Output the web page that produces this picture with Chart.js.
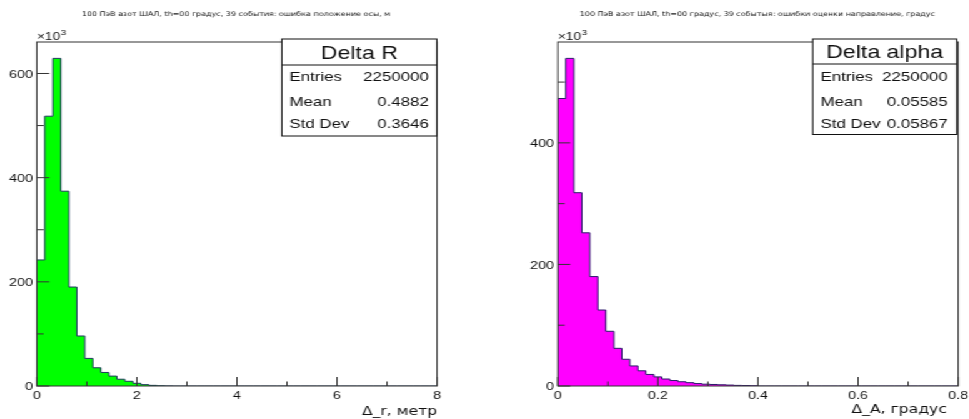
<!DOCTYPE html>
<html><head><meta charset="utf-8">
<script src="https://cdn.jsdelivr.net/npm/chart.js@4"></script>
<style>
html,body{margin:0;padding:0;background:#fff;overflow:hidden;width:969px;height:419px}
#wrap{position:absolute;left:0;top:0;width:776px;height:419px;transform:scaleX(1.25);transform-origin:0 0}
#c1{position:absolute;left:0;top:0}
#c2{position:absolute;left:388px;top:0}
</style></head><body>
<div id="wrap"><canvas id="c1" width="388" height="419"></canvas><canvas id="c2" width="388" height="419"></canvas></div>
<script>
// ---------- data ----------
const titleR = '100 ПэВ азот ШАЛ, th=00 градус, 39 события: ошибка положение осы, м';
const titleA = '100 ПэВ азот ШАЛ, th=00 градус, 39 событыя: ошибки оценки направление, градус';
const axisTitleR = 'Δ_r, метр';
const axisTitleA = 'Δ_A, градус';

// histogram Delta R : 50 bins on [0, 8], contents in units of 10^3
const binsR = {nbins: 50, xmin: 0, xmax: 8};
const valuesR = [242, 518, 629, 374, 190, 96, 53, 35, 26, 19, 13, 9, 5.2, 2.6, 1.2, 0.5, 0.2, 0, 0, 0,
                 0, 0, 0, 0, 0, 0, 0, 0, 0, 0, 0, 0, 0, 0, 0, 0, 0, 0, 0, 0,
                 0, 0, 0, 0, 0, 0, 0, 0, 0, 0];
const statsR = {name: 'Delta R', entries: '2250000', mean: '0.4882', std: '0.3646'};
const xMajorR = [0, 2, 4, 6, 8], xMinorR = [1, 3, 5, 7];
const xLabelsR = ['0', '2', '4', '6', '8'];
const yMajorR = [0, 200, 400, 600], yMinorR = [100, 300, 500];
const yLabelsR = ['0', '200', '400', '600'];

// histogram Delta alpha : 50 bins on [0, 0.8], contents in units of 10^3
const binsA = {nbins: 50, xmin: 0, xmax: 0.8};
const valuesA = [473, 539, 318, 252, 180, 125, 90, 62, 44, 33, 25, 19, 15, 11.5, 9, 7, 5.5, 4, 3, 2.5,
                 2, 1.5, 1, 0.7, 0.4, 0, 0, 0, 0, 0, 0, 0, 0, 0, 0, 0, 0, 0, 0, 0,
                 0, 0, 0, 0, 0, 0, 0, 0, 0, 0];
const statsA = {name: 'Delta alpha', entries: '2250000', mean: '0.05585', std: '0.05867'};
const xMajorA = [0, 0.2, 0.4, 0.6, 0.8], xMinorA = [0.1, 0.3, 0.5, 0.7];
const xLabelsA = ['0', '0.2', '0.4', '0.6', '0.8'];
const yMajorA = [0, 200, 400], yMinorA = [100, 300, 500];
const yLabelsA = ['0', '200', '400'];

// ---------- drawing ----------
const SANS = '"Liberation Sans", Arial, Helvetica, sans-serif';
const DEJA = '"DejaVu Sans", sans-serif';

function rootPlugin(cfg) {
  return {
    id: 'rootStyle',
    afterDatasetsDraw(chart) {
      const {ctx, chartArea: a, scales: {x, y}} = chart;
      ctx.save();
      const seg = (x1, y1, x2, y2) => { ctx.beginPath(); ctx.moveTo(x1, y1); ctx.lineTo(x2, y2); ctx.stroke(); };
      ctx.strokeStyle = '#333'; ctx.lineWidth = 1;
      ctx.strokeRect(a.left, a.top, a.right - a.left, a.bottom - a.top);
      cfg.xMajor.forEach(v => { const p = x.getPixelForValue(v); seg(p, a.bottom, p, a.bottom - 9); });
      cfg.xMinor.forEach(v => { const p = x.getPixelForValue(v); seg(p, a.bottom, p, a.bottom - 4.5); });
      cfg.yMajor.forEach(v => { const p = y.getPixelForValue(v); seg(a.left, p, a.left + 10, p); });
      cfg.yMinor.forEach(v => { const p = y.getPixelForValue(v); seg(a.left, p, a.left + 5.5, p); });
      ctx.fillStyle = '#111';
      ctx.font = '11.5px ' + SANS;
      ctx.textAlign = 'center'; ctx.textBaseline = 'middle';
      cfg.xMajor.forEach((v, i) => ctx.fillText(cfg.xLabels[i], x.getPixelForValue(v), a.bottom + 10));
      ctx.textAlign = 'right';
      cfg.yMajor.forEach((v, i) => ctx.fillText(cfg.yLabels[i], a.left - 3, y.getPixelForValue(v) + 1));
      ctx.textAlign = 'left'; ctx.textBaseline = 'alphabetic';
      ctx.font = '11px ' + SANS;
      ctx.fillText('×10', a.left, 40);
      const w = ctx.measureText('×10').width;
      ctx.font = '8px ' + SANS;
      ctx.fillText('3', a.left + w + 0.5, 35);
      ctx.font = '12.5px ' + DEJA; ctx.textAlign = 'right'; ctx.textBaseline = 'middle';
      ctx.fillText(cfg.axisTitle, cfg.axisTitleX, cfg.axisTitleY);
      ctx.font = '6.4px ' + DEJA; ctx.textAlign = 'center';
      ctx.fillText(cfg.title, cfg.titleX, 14.5);
      const s = cfg.box;
      ctx.fillStyle = '#fff';
      ctx.fillRect(s.l, s.t, s.r - s.l, s.b - s.t);
      ctx.strokeStyle = '#111';
      ctx.strokeRect(s.l, s.t, s.r - s.l, s.b - s.t);
      seg(s.l, s.sep, s.r, s.sep);
      ctx.fillStyle = '#111';
      ctx.font = '18.5px ' + SANS; ctx.textAlign = 'center';
      ctx.fillText(cfg.stats.name, (s.l + s.r) / 2, (s.t + s.sep) / 2 + 1.5);
      ctx.font = '13.5px ' + SANS;
      const rows = [['Entries', cfg.stats.entries], ['Mean', cfg.stats.mean], ['Std Dev', cfg.stats.std]];
      const ys = [77.5, 102, 124.5];
      rows.forEach((r, i) => {
        ctx.textAlign = 'left'; ctx.fillText(r[0], s.tx, ys[i]);
        ctx.textAlign = 'right'; ctx.fillText(r[1], s.vx, ys[i]);
      });
      ctx.restore();
    }
  };
}

function makeChart(id, bins, values, cfg) {
  const edges = [];
  for (let i = 0; i <= bins.nbins; i++) edges.push(bins.xmin + (bins.xmax - bins.xmin) * i / bins.nbins);
  // step outline: each point is the right edge of a bin with that bin's content
  const pts = [{x: bins.xmin, y: 0}];
  values.forEach((v, i) => pts.push({x: edges[i + 1], y: v}));
  pts.push({x: bins.xmax, y: 0});
  const ymax = 1.05 * Math.max(...values);
  return new Chart(document.getElementById(id), {
    type: 'line',
    data: {datasets: [{data: pts, stepped: 'after', fill: 'origin', backgroundColor: cfg.fill,
      borderColor: cfg.line, borderWidth: 1, pointRadius: 0}]},
    options: {
      responsive: false, animation: false, events: [],
      layout: {padding: cfg.pad},
      plugins: {legend: {display: false}, tooltip: {enabled: false}},
      scales: {
        x: {type: 'linear', min: bins.xmin, max: bins.xmax, display: false},
        y: {type: 'linear', min: 0, max: ymax, display: false}
      }
    },
    plugins: [rootPlugin(cfg)]
  });
}

makeChart('c1', binsR, valuesR, {
  fill: '#00ff00', line: '#1d3a5c',
  pad: {left: 29.4, right: 38.4, top: 42, bottom: 33},
  xMajor: xMajorR, xMinor: xMinorR, xLabels: xLabelsR,
  yMajor: yMajorR, yMinor: yMinorR, yLabels: yLabelsR,
  axisTitle: axisTitleR, axisTitleX: 349.6, axisTitleY: 411.5,
  title: titleR, titleX: 188.8,
  stats: statsR,
  box: {l: 225.4, r: 349.4, t: 39, b: 136, sep: 65, tx: 231.4, vx: 343}
});
makeChart('c2', binsA, valuesA, {
  fill: '#ff00ff', line: '#2a1a6a',
  pad: {left: 58.2, right: 9.4, top: 42, bottom: 33},
  xMajor: xMajorA, xMinor: xMinorA, xLabels: xLabelsA,
  yMajor: yMajorA, yMinor: yMinorA, yLabels: yLabelsA,
  axisTitle: axisTitleA, axisTitleX: 369.6, axisTitleY: 409.5,
  title: titleA, titleX: 217.9,
  stats: statsA,
  box: {l: 262.2, r: 377.4, t: 39, b: 134.5, sep: 64, tx: 268.6, vx: 370.2}
});
</script>
</body></html>
